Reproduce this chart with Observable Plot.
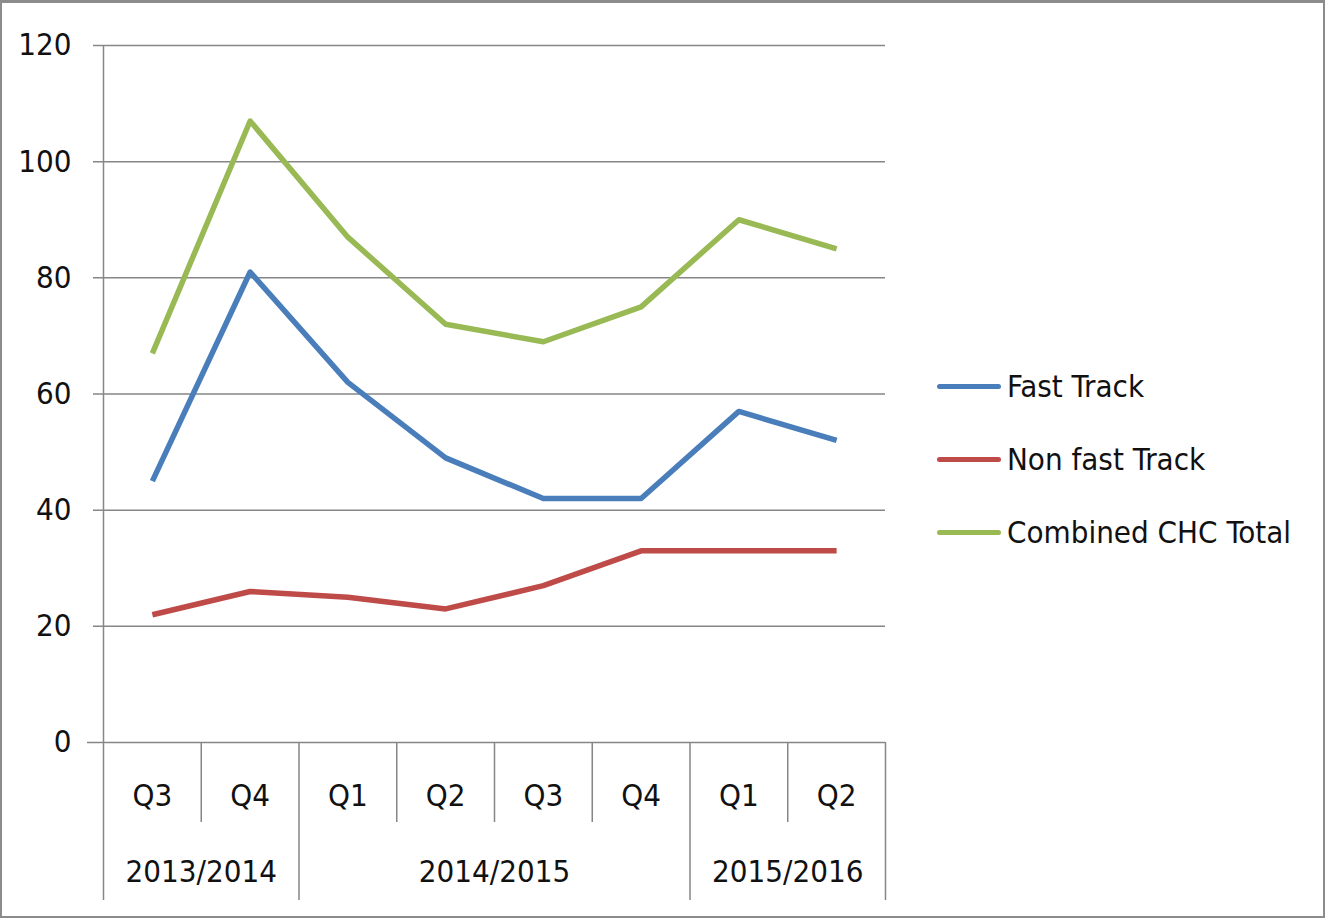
<!DOCTYPE html>
<html>
<head>
<meta charset="utf-8">
<script src="https://cdn.jsdelivr.net/npm/d3@7"></script>
<script src="https://cdn.jsdelivr.net/npm/@observablehq/plot@0.6"></script>
<style>
  html, body { margin: 0; padding: 0; background: #fff; }
  #wrap { position: relative; width: 1325px; height: 918px; overflow: hidden;
          font-family: "Liberation Sans Narrow", "DejaVu Sans Condensed", sans-serif; }
  #border { position: absolute; left: 0; top: 0; width: 1325px; height: 918px; box-sizing: border-box;
            border: 2px solid #8c8c8c; border-top-width: 3px; pointer-events: none; }
  #chart { position: absolute; left: 0; top: 0; }
  .leg { position: absolute; left: 937px; height: 40px; display: flex; align-items: center; }
  .leg .sw { width: 64px; height: 5px; border-radius: 3px; }
  .leg .lb { margin-left: 6px; font-size: 31px; color: #111; white-space: nowrap; }
</style>
</head>
<body>
<div id="wrap">
  <div id="chart"></div>
  <div id="legend"></div>
  <div id="border"></div>
</div>
<script>
const quarters = ["Q3", "Q4", "Q1", "Q2", "Q3", "Q4", "Q1", "Q2"];
const years = ["2013/2014", "2014/2015", "2015/2016"];
const yearSpans = [2, 4, 2];
const fastTrack = [45, 81, 62, 49, 42, 42, 57, 52];
const nonFastTrack = [22, 26, 25, 23, 27, 33, 33, 33];
const combined = [67, 107, 87, 72, 69, 75, 90, 85];
const yTicks = [0, 20, 40, 60, 80, 100, 120];

const seriesNames = ["Fast Track", "Non fast Track", "Combined CHC Total"];
const seriesValues = [fastTrack, nonFastTrack, combined];
const colors = ["#4a7ebb", "#be4b48", "#98b954"];

const rows = [];
seriesNames.forEach((s, k) => seriesValues[k].forEach((v, i) => rows.push({series: s, i, v})));

// category boundaries
const bounds = d3.range(quarters.length + 1).map(i => i - 0.5);
const yearStarts = [];
let acc = 0;
yearSpans.forEach(n => { yearStarts.push(acc); acc += n; });
const yearBounds = yearStarts.map(s => s - 0.5).concat([acc - 0.5]);
const quarterOnly = bounds.filter(b => !yearBounds.includes(b));
const yearLabels = years.map((y, k) => ({label: y, x: yearStarts[k] + (yearSpans[k] - 1) / 2}));

const font = "Liberation Sans Narrow, DejaVu Sans Condensed, sans-serif";
const grid = "#868686";
const fs = 31;

const plot = Plot.plot({
  width: 1325,
  height: 918,
  marginLeft: 103,
  marginRight: 440,
  marginTop: 45,
  marginBottom: 18,
  style: {fontFamily: font, background: "transparent", overflow: "visible"},
  x: {type: "linear", domain: [-0.5, quarters.length - 0.5], axis: null},
  y: {type: "linear", domain: [0, 120], range: [742, 45], axis: null},
  color: {domain: seriesNames, range: colors},
  marks: [
    // horizontal gridlines + small tick to left
    Plot.ruleY(yTicks.filter(d => d > 0), {y: d => d, stroke: grid, strokeWidth: 1.5, insetLeft: -10}),
    // category axis baseline
    Plot.ruleY([0], {stroke: grid, strokeWidth: 1.5, insetLeft: -16}),
    // value axis line (spans into label area)
    Plot.ruleX([bounds[0]], {stroke: grid, strokeWidth: 1.5}),
    // year separators in label area
    Plot.ruleX(yearBounds.slice(1), {x: d => d, y1: () => 0, y2: () => 0, insetBottom: -158, stroke: grid, strokeWidth: 1.5}),
    // quarter separators
    Plot.ruleX(quarterOnly, {x: d => d, y1: () => 0, y2: () => 0, insetBottom: -80, stroke: grid, strokeWidth: 1.5}),
    // y tick labels
    Plot.text(yTicks, {y: d => d, frameAnchor: "left", dx: -32, textAnchor: "end", text: d => String(d),
      fontSize: fs, fill: "#111"}),
    // quarter labels
    Plot.text(quarters, {x: (d, i) => i, y: () => 0, dy: 54, text: d => d, fontSize: fs, fill: "#111"}),
    // year labels
    Plot.text(yearLabels, {x: "x", y: () => 0, dy: 130, text: "label", fontSize: fs, fill: "#111"}),
    // series lines
    Plot.line(rows, {x: "i", y: "v", z: "series", stroke: "series", strokeWidth: 5.5,
      strokeLinejoin: "round", strokeLinecap: "butt"})
  ]
});
document.getElementById("chart").appendChild(plot);

// legend
const legend = document.getElementById("legend");
const legendTops = [366, 439, 512];
seriesNames.forEach((s, k) => {
  const d = document.createElement("div");
  d.className = "leg";
  d.style.top = legendTops[k] + "px";
  d.innerHTML = `<div class="sw" style="background:${colors[k]}"></div><div class="lb">${s}</div>`;
  legend.appendChild(d);
});
</script>
</body>
</html>
